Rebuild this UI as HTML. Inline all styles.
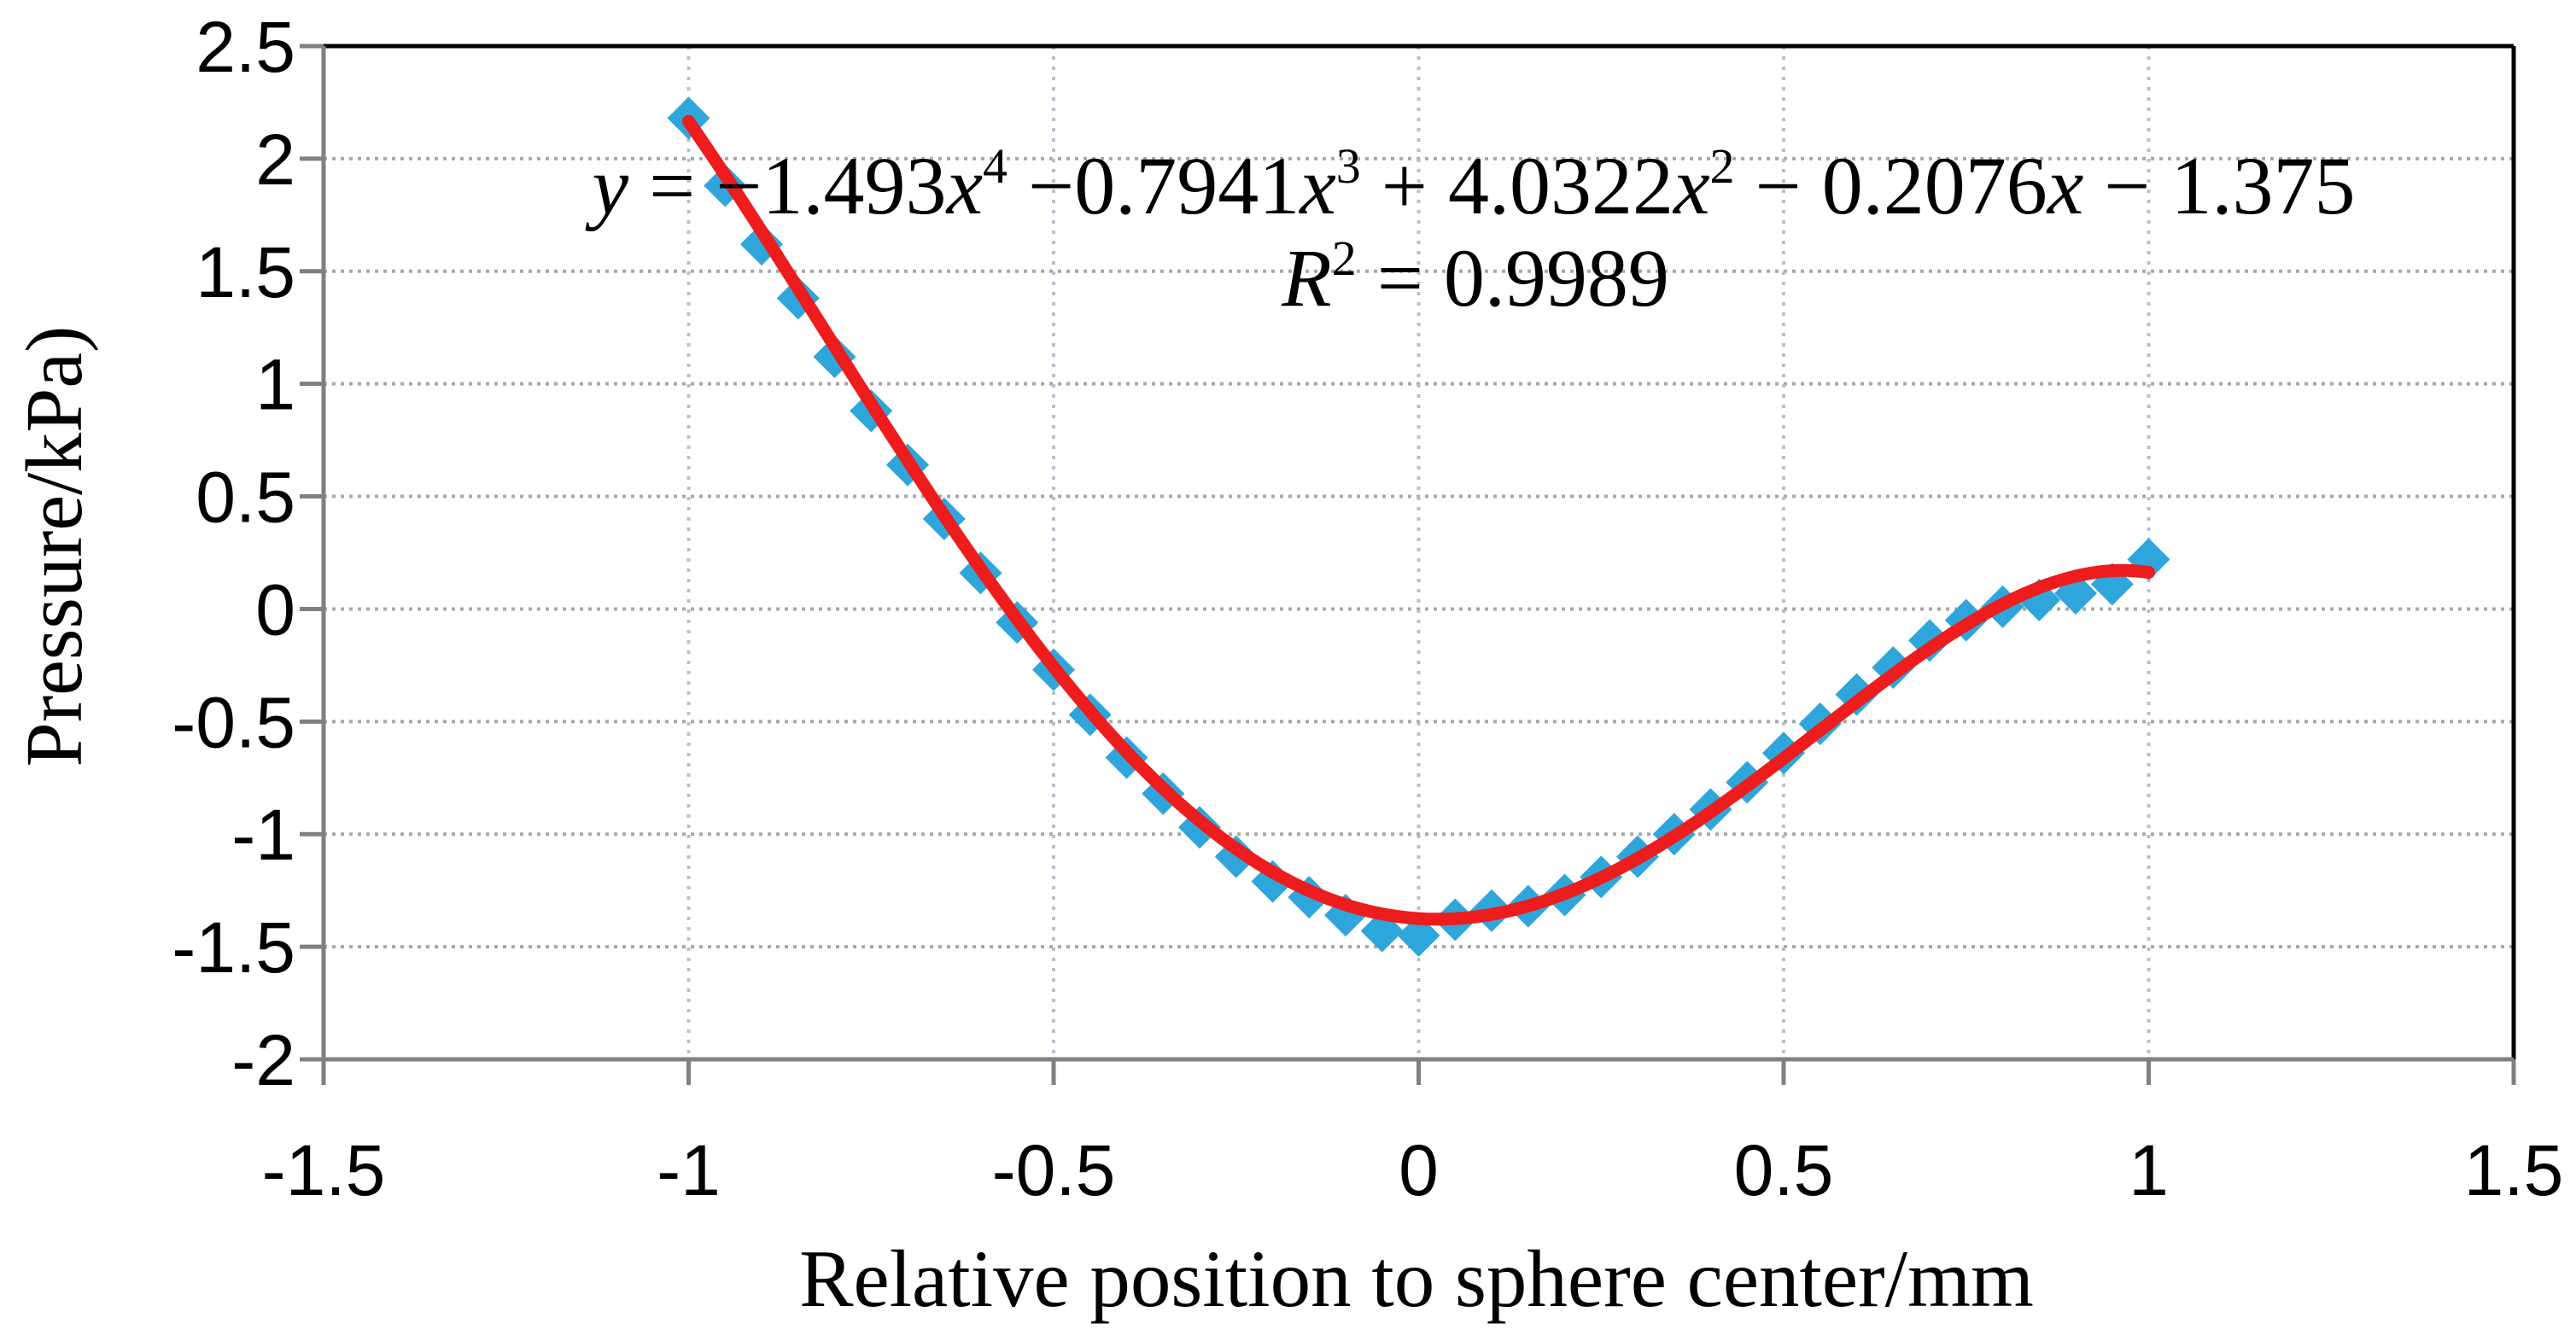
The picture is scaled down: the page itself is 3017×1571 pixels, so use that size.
<!DOCTYPE html>
<html><head><meta charset="utf-8"><style>
html,body{margin:0;padding:0;background:#fff;}
svg{display:block;}
.tick{font-family:"Liberation Sans",sans-serif;font-size:84px;fill:#000;}
.ser{font-family:"Liberation Serif",serif;fill:#000;}
</style></head><body>
<svg id="chart" width="3017" height="1571" viewBox="0 0 3017 1571" xmlns="http://www.w3.org/2000/svg">
<g id="grid"></g>
<g id="axes"></g>
<g id="pts"></g>
<g id="fit"></g>
<text class="ser" x="1726" y="250" font-size="96" text-anchor="middle"><tspan font-style="italic">y</tspan> = −1.493<tspan font-style="italic">x</tspan><tspan font-size="58" dy="-36">4</tspan><tspan dy="36"> −0.7941</tspan><tspan font-style="italic">x</tspan><tspan font-size="58" dy="-36">3</tspan><tspan dy="36"> + 4.0322</tspan><tspan font-style="italic">x</tspan><tspan font-size="58" dy="-36">2</tspan><tspan dy="36"> − 0.2076</tspan><tspan font-style="italic">x</tspan> − 1.375</text>
<text class="ser" x="1728" y="358" font-size="96" text-anchor="middle"><tspan font-style="italic">R</tspan><tspan font-size="58" dy="-36">2</tspan><tspan dy="36"> = 0.9989</tspan></text>
<text class="ser" x="1659" y="1530" font-size="95" text-anchor="middle">Relative position to sphere center/mm</text>
<text class="ser" x="0" y="0" font-size="94" text-anchor="middle" transform="translate(95,640) rotate(-90)">Pressure/kPa)</text>
</svg>
<script>
const xTicks=[-1.5,-1,-0.5,0,0.5,1,1.5];
const xTickLabels=["-1.5","-1","-0.5","0","0.5","1","1.5"];
const yTicks=[2.5,2,1.5,1,0.5,0,-0.5,-1,-1.5,-2];
const yTickLabels=["2.5","2","1.5","1","0.5","0","-0.5","-1","-1.5","-2"];
const dataX=[-1,-0.95,-0.9,-0.85,-0.8,-0.75,-0.7,-0.65,-0.6,-0.55,-0.5,-0.45,-0.4,-0.35,-0.3,-0.25,-0.2,-0.15,-0.1,-0.05,0,0.05,0.1,0.15,0.2,0.25,0.3,0.35,0.4,0.45,0.5,0.55,0.6,0.65,0.7,0.75,0.8,0.85,0.9,0.95,1];
const dataY=[2.18,1.88,1.62,1.38,1.12,0.88,0.64,0.40,0.16,-0.06,-0.27,-0.47,-0.66,-0.82,-0.97,-1.10,-1.21,-1.28,-1.36,-1.43,-1.45,-1.38,-1.34,-1.32,-1.27,-1.19,-1.10,-1.00,-0.89,-0.77,-0.64,-0.51,-0.38,-0.26,-0.14,-0.05,0.01,0.04,0.07,0.11,0.22];
const fitCoef=[-1.493,-0.7941,4.0322,-0.2076,-1.375];
const X0=379,X1=2944,Y0=54,Y1=1241,xmin=-1.5,xmax=1.5,ymin=-2,ymax=2.5;
const sx=v=>X0+(v-xmin)/(xmax-xmin)*(X1-X0);
const sy=v=>Y1-(v-ymin)/(ymax-ymin)*(Y1-Y0);
const NS="http://www.w3.org/2000/svg";
function mk(tag,parent,attrs){const e=document.createElementNS(NS,tag);for(const k in attrs)e.setAttribute(k,attrs[k]);parent.appendChild(e);return e;}
const gGrid=document.getElementById('grid'),gAxes=document.getElementById('axes'),gPts=document.getElementById('pts'),gFit=document.getElementById('fit');
yTicks.forEach((v,i)=>{
  if(v<ymax&&v>ymin){const l=mk('line',gGrid,{x1:X0,x2:X1,y1:sy(v),y2:sy(v),stroke:'#a8a8a8','stroke-width':4,'stroke-dasharray':'4 6'});
  
  }
  const t=mk('line',gAxes,{x1:X0-28,x2:X0,y1:sy(v),y2:sy(v),stroke:'#808080','stroke-width':5});
  
  
  const tx=mk('text',gAxes,{x:346,y:sy(v)+30,'text-anchor':'end',class:'tick'});tx.textContent=yTickLabels[i];
  
  
});
xTicks.forEach((v,i)=>{
  if(v>xmin&&v<xmax){const l=mk('line',gGrid,{x1:sx(v),x2:sx(v),y1:Y0,y2:Y1,stroke:'#b8c0cc','stroke-width':4,'stroke-dasharray':'4 8'});
  
  }
  const t=mk('line',gAxes,{x1:sx(v),x2:sx(v),y1:Y1,y2:Y1+30,stroke:'#808080','stroke-width':5});
  
  
  const tx=mk('text',gAxes,{x:sx(v),y:1400,'text-anchor':'middle',class:'tick'});tx.textContent=xTickLabels[i];
  
  
});
const borderTop=mk('line',gAxes,{x1:X0,x2:X1,y1:Y0,y2:Y0,stroke:'#000','stroke-width':5});


const borderRight=mk('line',gAxes,{x1:X1,x2:X1,y1:Y0,y2:Y1,stroke:'#000','stroke-width':5});


const yax=mk('line',gAxes,{x1:X0,x2:X0,y1:Y0,y2:Y1,stroke:'#808080','stroke-width':5});


const xax=mk('line',gAxes,{x1:X0,x2:X1,y1:Y1,y2:Y1,stroke:'#808080','stroke-width':5});


dataX.forEach((x,i)=>{
  const cx=sx(x),cy=sy(dataY[i]),r=25;
  const p=mk('polygon',gPts,{points:`${cx},${cy-r} ${cx+r},${cy} ${cx},${cy+r} ${cx-r},${cy}`,fill:'#2ea6dc'});
  
  
});
let d='';
for(let k=0;k<=200;k++){const x=-1+k*0.01;const y=fitCoef[0]*x**4+fitCoef[1]*x**3+fitCoef[2]*x**2+fitCoef[3]*x+fitCoef[4];d+=(k?'L':'M')+sx(x).toFixed(1)+','+sy(y).toFixed(1);}
const fl=mk('path',gFit,{d:d,fill:'none',stroke:'#ee1c1c','stroke-width':15,'stroke-linecap':'round','stroke-linejoin':'round'});


</script>
</body></html>
